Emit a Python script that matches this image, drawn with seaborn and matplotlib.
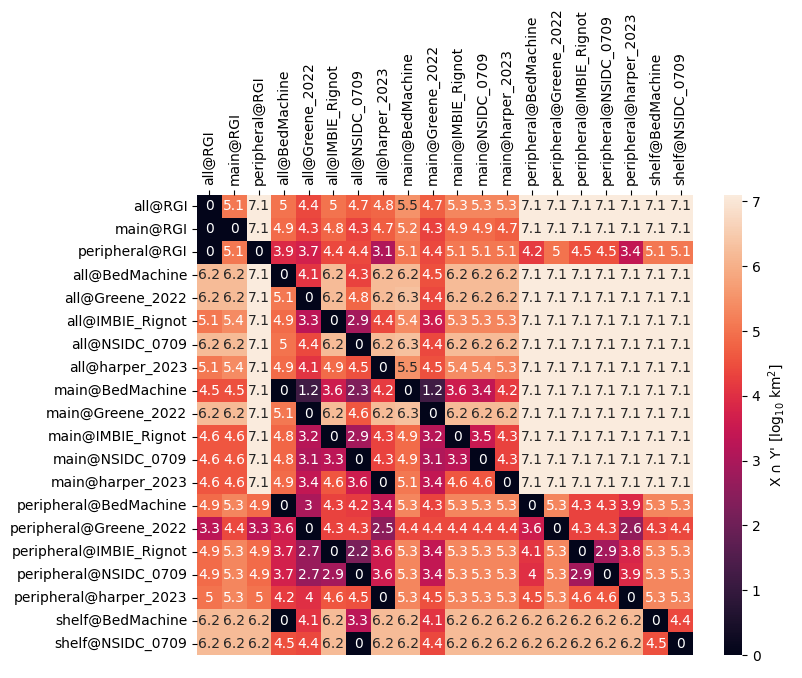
import numpy as np
import pandas as pd
import seaborn as sns
from matplotlib import pyplot as plt

labels = ['all@RGI', 'main@RGI', 'peripheral@RGI',
          'all@BedMachine', 'all@Greene_2022', 'all@IMBIE_Rignot', 'all@NSIDC_0709', 'all@harper_2023',
          'main@BedMachine', 'main@Greene_2022', 'main@IMBIE_Rignot', 'main@NSIDC_0709', 'main@harper_2023',
          'peripheral@BedMachine', 'peripheral@Greene_2022', 'peripheral@IMBIE_Rignot',
          'peripheral@NSIDC_0709', 'peripheral@harper_2023',
          'shelf@BedMachine', 'shelf@NSIDC_0709']

# log10 area of X minus Y, one row per X
row_all_rgi = [0, 5.1, 7.1, 5, 4.4, 5, 4.7, 4.8, 5.5, 4.7, 5.3, 5.3, 5.3, 7.1, 7.1, 7.1, 7.1, 7.1, 7.1, 7.1]
row_main_rgi = [0, 0, 7.1, 4.9, 4.3, 4.8, 4.3, 4.7, 5.2, 4.3, 4.9, 4.9, 4.7, 7.1, 7.1, 7.1, 7.1, 7.1, 7.1, 7.1]
row_peri_rgi = [0, 5.1, 0, 3.9, 3.7, 4.4, 4.4, 3.1, 5.1, 4.4, 5.1, 5.1, 5.1, 4.2, 5, 4.5, 4.5, 3.4, 5.1, 5.1]
row_all_bm = [6.2, 6.2, 7.1, 0, 4.1, 6.2, 4.3, 6.2, 6.2, 4.5, 6.2, 6.2, 6.2, 7.1, 7.1, 7.1, 7.1, 7.1, 7.1, 7.1]
row_all_gr = [6.2, 6.2, 7.1, 5.1, 0, 6.2, 4.8, 6.2, 6.3, 4.4, 6.2, 6.2, 6.2, 7.1, 7.1, 7.1, 7.1, 7.1, 7.1, 7.1]
row_all_im = [5.1, 5.4, 7.1, 4.9, 3.3, 0, 2.9, 4.4, 5.4, 3.6, 5.3, 5.3, 5.3, 7.1, 7.1, 7.1, 7.1, 7.1, 7.1, 7.1]
row_all_ns = [6.2, 6.2, 7.1, 5, 4.4, 6.2, 0, 6.2, 6.3, 4.4, 6.2, 6.2, 6.2, 7.1, 7.1, 7.1, 7.1, 7.1, 7.1, 7.1]
row_all_ha = [5.1, 5.4, 7.1, 4.9, 4.1, 4.9, 4.5, 0, 5.5, 4.5, 5.4, 5.4, 5.3, 7.1, 7.1, 7.1, 7.1, 7.1, 7.1, 7.1]
row_main_bm = [4.5, 4.5, 7.1, 0, 1.2, 3.6, 2.3, 4.2, 0, 1.2, 3.6, 3.4, 4.2, 7.1, 7.1, 7.1, 7.1, 7.1, 7.1, 7.1]
row_main_gr = [6.2, 6.2, 7.1, 5.1, 0, 6.2, 4.6, 6.2, 6.3, 0, 6.2, 6.2, 6.2, 7.1, 7.1, 7.1, 7.1, 7.1, 7.1, 7.1]
row_main_im = [4.6, 4.6, 7.1, 4.8, 3.2, 0, 2.9, 4.3, 4.9, 3.2, 0, 3.5, 4.3, 7.1, 7.1, 7.1, 7.1, 7.1, 7.1, 7.1]
row_main_ns = [4.6, 4.6, 7.1, 4.8, 3.1, 3.3, 0, 4.3, 4.9, 3.1, 3.3, 0, 4.3, 7.1, 7.1, 7.1, 7.1, 7.1, 7.1, 7.1]
row_main_ha = [4.6, 4.6, 7.1, 4.9, 3.4, 4.6, 3.6, 0, 5.1, 3.4, 4.6, 4.6, 0, 7.1, 7.1, 7.1, 7.1, 7.1, 7.1, 7.1]
row_peri_bm = [4.9, 5.3, 4.9, 0, 3, 4.3, 4.2, 3.4, 5.3, 4.3, 5.3, 5.3, 5.3, 0, 5.3, 4.3, 4.3, 3.9, 5.3, 5.3]
row_peri_gr = [3.3, 4.4, 3.3, 3.6, 0, 4.3, 4.3, 2.5, 4.4, 4.4, 4.4, 4.4, 4.4, 3.6, 0, 4.3, 4.3, 2.6, 4.3, 4.4]
row_peri_im = [4.9, 5.3, 4.9, 3.7, 2.7, 0, 2.2, 3.6, 5.3, 3.4, 5.3, 5.3, 5.3, 4.1, 5.3, 0, 2.9, 3.8, 5.3, 5.3]
row_peri_ns = [4.9, 5.3, 4.9, 3.7, 2.7, 2.9, 0, 3.6, 5.3, 3.4, 5.3, 5.3, 5.3, 4, 5.3, 2.9, 0, 3.9, 5.3, 5.3]
row_peri_ha = [5, 5.3, 5, 4.2, 4, 4.6, 4.5, 0, 5.3, 4.5, 5.3, 5.3, 5.3, 4.5, 5.3, 4.6, 4.6, 0, 5.3, 5.3]
row_shelf_bm = [6.2, 6.2, 6.2, 0, 4.1, 6.2, 3.3, 6.2, 6.2, 4.1, 6.2, 6.2, 6.2, 6.2, 6.2, 6.2, 6.2, 6.2, 0, 4.4]
row_shelf_ns = [6.2, 6.2, 6.2, 4.5, 4.4, 6.2, 0, 6.2, 6.2, 4.4, 6.2, 6.2, 6.2, 6.2, 6.2, 6.2, 6.2, 6.2, 4.5, 0]

rows = [row_all_rgi, row_main_rgi, row_peri_rgi, row_all_bm, row_all_gr, row_all_im, row_all_ns,
        row_all_ha, row_main_bm, row_main_gr, row_main_im, row_main_ns, row_main_ha, row_peri_bm,
        row_peri_gr, row_peri_im, row_peri_ns, row_peri_ha, row_shelf_bm, row_shelf_ns]

df = pd.DataFrame(np.array(rows), index=labels, columns=labels)

fig = plt.figure(figsize=(8.03, 6.78), dpi=100)
ax = fig.add_axes([0.2453, 0.0339, 0.6177, 0.6785])
cax = fig.add_axes([0.9016, 0.0339, 0.0224, 0.6785])

sns.heatmap(df, annot=True, ax=ax, cbar_ax=cax, vmin=0,
            cbar_kws={'label': "X \u2229 Y' [log$_{10}$ km$^2$]"})
ax.xaxis.tick_top()
ax.set_xticklabels(labels, rotation=90)
ax.set_yticklabels(labels, rotation=0)

fig.savefig('out.png', dpi=100)
